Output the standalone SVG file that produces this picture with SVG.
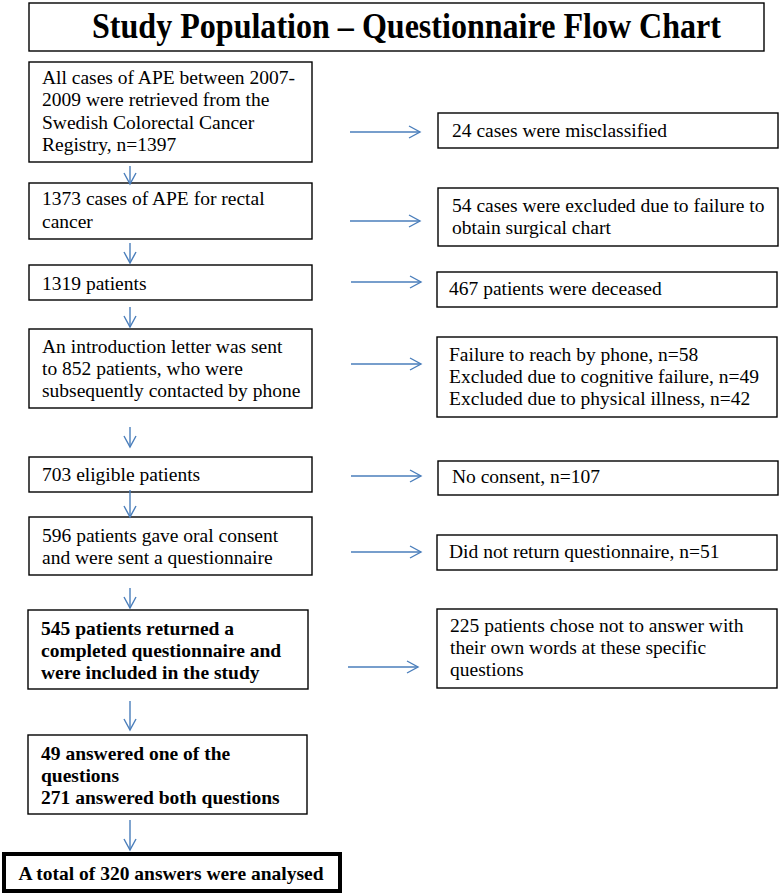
<svg xmlns="http://www.w3.org/2000/svg" width="780" height="895" viewBox="0 0 780 895" font-family="'Liberation Serif', 'Times New Roman', serif">
<defs>
<marker id="ah" markerUnits="userSpaceOnUse" markerWidth="14" markerHeight="14" refX="12" refY="7" orient="auto" viewBox="0 0 14 14">
<path d="M1,1 L12,7 L1,13" fill="none" stroke="#4A7EBB" stroke-width="1.4"/>
</marker>
</defs>
<style>
.box{fill:#fff;stroke:#000;stroke-width:1.4}
text{font-family:'Liberation Serif','Times New Roman',serif;font-size:19.5px;fill:#000}
.b{font-weight:bold}
.c{fill:none;stroke:#4A7EBB;stroke-width:1.4;marker-end:url(#ah)}
</style>
<rect width="780" height="895" fill="#fff"/>
<g id="title">
<rect class="box" x="29" y="3" width="735" height="48"/>
<text class="b" x="92" y="38" style="font-size:35px" textLength="629" lengthAdjust="spacingAndGlyphs">Study Population – Questionnaire Flow Chart</text>
</g>
<g id="n1">
<rect class="box" x="29" y="62" width="283" height="100"/>
<text x="42" y="84">All cases of APE between 2007-</text>
<text x="42" y="106">2009 were retrieved from the</text>
<text x="42" y="129">Swedish Colorectal Cancer</text>
<text x="42" y="151">Registry, n=1397</text>
</g>
<g id="n2">
<rect class="box" x="29" y="183" width="283" height="56"/>
<text x="42" y="205">1373 cases of APE for rectal</text>
<text x="42" y="228">cancer</text>
</g>
<g id="n3">
<rect class="box" x="29" y="265" width="283" height="35"/>
<text x="42" y="290">1319 patients</text>
</g>
<g id="n4">
<rect class="box" x="29" y="329" width="283" height="79"/>
<text x="42" y="353">An introduction letter was sent</text>
<text x="42" y="375">to 852 patients, who were</text>
<text x="42" y="397">subsequently contacted by phone</text>
</g>
<g id="n5">
<rect class="box" x="29" y="457" width="283" height="35"/>
<text x="42" y="481">703 eligible patients</text>
</g>
<g id="n6">
<rect class="box" x="29" y="517" width="283" height="58"/>
<text x="42" y="542">596 patients gave oral consent</text>
<text x="42" y="564">and were sent a questionnaire</text>
</g>
<g id="n7">
<rect class="box" x="28" y="610" width="280" height="79"/>
<text class="b" x="41" y="635">545 patients returned a</text>
<text class="b" x="41" y="657">completed questionnaire and</text>
<text class="b" x="41" y="679">were included in the study</text>
</g>
<g id="n8">
<rect class="box" x="28" y="735" width="279" height="79"/>
<text class="b" x="41" y="760">49 answered one of the</text>
<text class="b" x="41" y="782">questions</text>
<text class="b" x="41" y="804">271 answered both questions</text>
</g>
<g id="n9">
<rect x="4" y="854" width="336" height="37" fill="#fff" stroke="#000" stroke-width="4"/>
<text class="b" x="171" y="880" text-anchor="middle">A total of 320 answers were analysed</text>
</g>
<g id="r1">
<rect class="box" x="438" y="113" width="340" height="35"/>
<text x="452" y="137">24 cases were misclassified</text>
</g>
<g id="r2">
<rect class="box" x="438" y="188" width="340" height="58"/>
<text x="452" y="212">54 cases were excluded due to failure to</text>
<text x="452" y="234">obtain surgical chart</text>
</g>
<g id="r3">
<rect class="box" x="437" y="272" width="340" height="35"/>
<text x="449" y="295">467 patients were deceased</text>
</g>
<g id="r4">
<rect class="box" x="437" y="337" width="340" height="80"/>
<text x="449" y="361">Failure to reach by phone, n=58</text>
<text x="449" y="383">Excluded due to cognitive failure, n=49</text>
<text x="449" y="405">Excluded due to physical illness, n=42</text>
</g>
<g id="r5">
<rect class="box" x="438" y="461" width="340" height="34"/>
<text x="452" y="483">No consent, n=107</text>
</g>
<g id="r6">
<rect class="box" x="437" y="535" width="340" height="35"/>
<text x="449" y="558">Did not return questionnaire, n=51</text>
</g>
<g id="r7">
<rect class="box" x="437" y="609" width="340" height="79"/>
<text x="450" y="632">225 patients chose not to answer with</text>
<text x="450" y="654">their own words at these specific</text>
<text x="450" y="676">questions</text>
</g>
<g id="connectors">
<path class="c" d="M130,166 V184"/>
<path class="c" d="M130,243 V263"/>
<path class="c" d="M130,307 V327"/>
<path class="c" d="M130,427 V447"/>
<path class="c" d="M130,490 V517"/>
<path class="c" d="M130,588 V608"/>
<path class="c" d="M130,701 V730"/>
<path class="c" d="M130,820 V850"/>
<path class="c" d="M350,132 H420"/>
<path class="c" d="M350,221 H420"/>
<path class="c" d="M351,282 H421"/>
<path class="c" d="M351,364 H421"/>
<path class="c" d="M351,476 H421"/>
<path class="c" d="M351,552 H421"/>
<path class="c" d="M348,667 H418"/>
</g>
</svg>
